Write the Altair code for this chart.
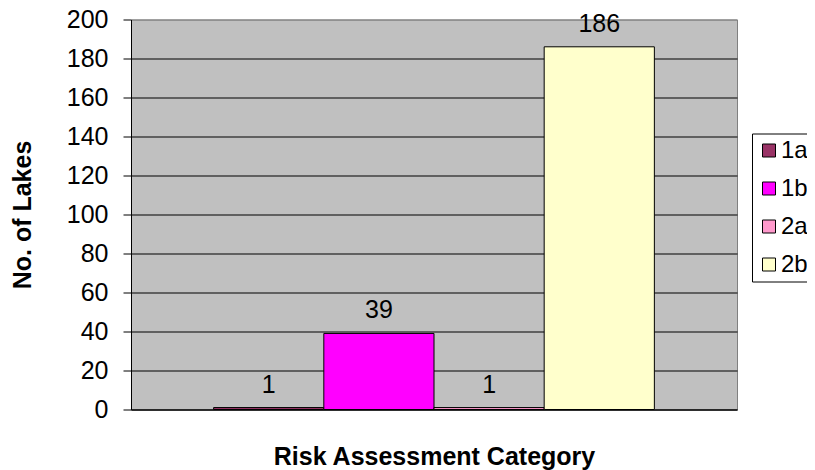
import altair as alt
import pandas as pd

categories = ["1a", "1b", "2a", "2b"]
lakes = [1, 39, 1, 186]
colors = ["#993366", "#FF00FF", "#FF99CC", "#FFFFCC"]
y_ticks = [0, 20, 40, 60, 80, 100, 120, 140, 160, 180, 200]

df = pd.DataFrame({"Category": categories, "Lakes": lakes})

FONT = "Liberation Sans"

x_enc = alt.X(
    "Category:N",
    sort=categories,
    scale=alt.Scale(paddingInner=0, paddingOuter=0.75),
    axis=alt.Axis(
        title="Risk Assessment Category",
        labels=False,
        ticks=False,
        grid=False,
        domain=True,
        domainColor="#000000",
        domainWidth=1,
        titleFontSize=25,
        titleFontWeight="bold",
        titleColor="#000000",
        titleFont=FONT,
        titlePadding=35,
    ),
)

y_enc = alt.Y(
    "Lakes:Q",
    scale=alt.Scale(domain=[0, 200], nice=False),
    axis=alt.Axis(
        title="No. of Lakes",
        values=y_ticks,
        labelOverlap=False,
        grid=True,
        gridColor={"condition": {"test": "datum.value == 200", "value": "#808080"}, "value": "#000000"},
        gridWidth=1,
        domain=True,
        domainColor="#000000",
        ticks=True,
        tickColor="#000000",
        tickSize=8,
        labelFontSize=25,
        labelFont=FONT,
        labelColor="#000000",
        labelPadding=15,
        titleFontSize=25,
        titleFontWeight="bold",
        titleFont=FONT,
        titleColor="#000000",
        titlePadding=31,
    ),
)

color_enc = alt.Color(
    "Category:N",
    sort=categories,
    scale=alt.Scale(domain=categories, range=colors),
    legend=alt.Legend(
        title=None,
        orient="none",
        legendX=621,
        legendY=114,
        symbolType="square",
        symbolSize=169,
        symbolStrokeColor="#000000",
        symbolStrokeWidth=1,
        symbolOpacity=1,
        labelFontSize=24,
        labelFont=FONT,
        labelColor="#000000",
        labelOffset=0,
        rowPadding=14,
        padding=5,
        strokeColor="#000000",
        fillColor="#FFFFFF",
    ),
)

base = alt.Chart(df).encode(x=x_enc, y=y_enc)

bars = base.mark_bar(stroke="#000000", strokeWidth=1).encode(color=color_enc)

labels = base.mark_text(
    dy=-15, fontSize=25, font=FONT, color="#000000", align="center", baseline="alphabetic"
).encode(text="Lakes:Q")

chart = (
    alt.layer(bars, labels)
    .properties(
        width=606,
        height=390,
        autosize=alt.AutoSizeParams(type="none"),
        padding={"left": 123, "top": 11.5, "right": 70, "bottom": 60.5},
        background="#FFFFFF",
    )
    .configure_view(fill="#C0C0C0", stroke="#808080", strokeWidth=1)
)

chart.save("out.html", embed_options={"renderer": "svg", "actions": False})
